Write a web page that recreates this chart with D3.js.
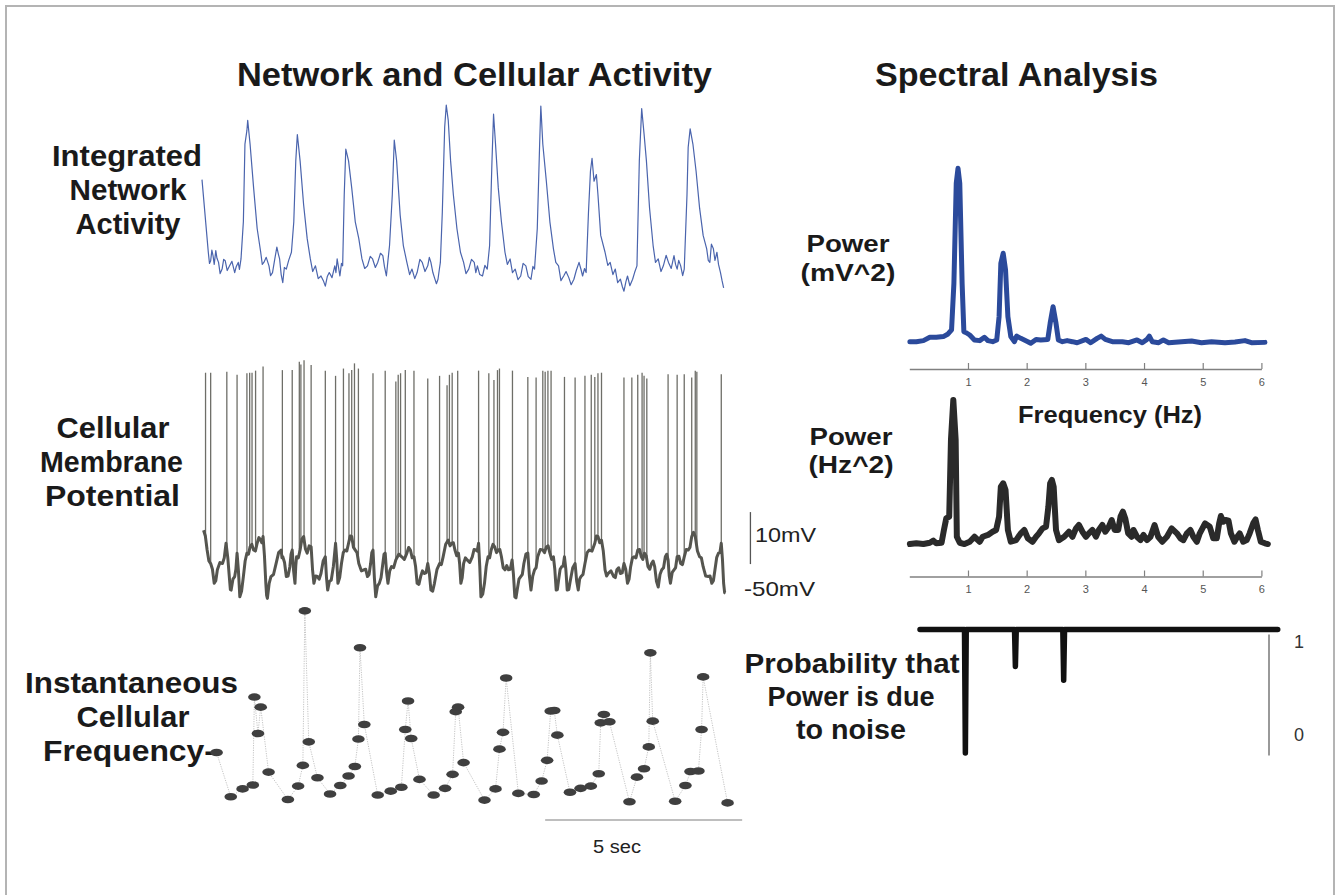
<!DOCTYPE html>
<html><head><meta charset="utf-8">
<script src="https://cdn.jsdelivr.net/npm/d3@7"></script>
<style>
html,body{margin:0;padding:0;background:#fff;}
svg{display:block;}
text{font-family:"Liberation Sans",Arial,Helvetica,sans-serif;}
</style></head><body>
<svg id="c" width="1336" height="895"></svg>
<script>
// ---------- DATA ----------
// Integrated network activity: [time s, a.u.]
const integratedActivity = [[0.00,60.8],[0.16,25.0],[0.19,19.5],[0.22,20.8],[0.25,26.0],[0.28,23.3],[0.31,19.0],[0.35,25.8],[0.38,22.0],[0.42,20.0],[0.46,14.5],[0.51,16.7],[0.55,21.5],[0.59,20.8],[0.64,16.0],[0.70,18.3],[0.76,20.5],[0.83,15.0],[0.87,18.0],[0.92,20.0],[0.95,16.5],[0.99,21.7],[1.05,40.0],[1.09,78.3],[1.14,85.0],[1.16,90.0],[1.22,78.3],[1.31,56.7],[1.40,36.7],[1.49,25.0],[1.53,19.0],[1.57,20.0],[1.63,22.5],[1.70,18.3],[1.74,13.5],[1.79,15.0],[1.85,22.0],[1.90,27.5],[1.94,24.0],[1.97,21.7],[2.01,14.0],[2.05,10.0],[2.09,17.5],[2.14,16.7],[2.20,21.0],[2.27,25.0],[2.33,40.0],[2.38,70.0],[2.42,83.0],[2.49,70.0],[2.58,48.3],[2.67,31.7],[2.75,21.7],[2.81,15.5],[2.88,18.3],[2.95,12.0],[3.02,13.3],[3.08,11.0],[3.13,8.3],[3.18,13.0],[3.23,15.0],[3.30,12.5],[3.37,18.3],[3.40,15.0],[3.43,21.7],[3.47,17.0],[3.50,13.3],[3.54,19.5],[3.57,18.3],[3.61,53.3],[3.65,75.8],[3.72,70.0],[3.80,56.7],[3.89,40.0],[3.98,31.7],[4.06,21.7],[4.13,17.0],[4.20,18.3],[4.27,23.0],[4.33,21.7],[4.40,17.5],[4.46,20.0],[4.53,24.5],[4.59,23.3],[4.63,18.0],[4.68,13.3],[4.72,21.0],[4.76,28.3],[4.83,53.3],[4.88,80.3],[4.94,70.0],[5.03,43.3],[5.11,28.3],[5.20,20.0],[5.27,14.0],[5.33,16.7],[5.40,12.0],[5.46,15.0],[5.53,21.5],[5.59,20.0],[5.66,15.5],[5.73,18.3],[5.77,22.5],[5.81,20.0],[5.86,15.0],[5.90,12.5],[5.95,9.5],[5.99,11.7],[6.02,16.0],[6.05,20.0],[6.10,45.0],[6.16,86.7],[6.20,97.5],[6.25,90.0],[6.31,70.0],[6.38,53.3],[6.47,36.7],[6.56,25.0],[6.64,20.0],[6.70,14.5],[6.77,16.7],[6.84,21.5],[6.91,20.0],[6.95,15.0],[6.99,18.3],[7.05,14.0],[7.12,13.3],[7.18,18.5],[7.24,16.7],[7.30,28.3],[7.36,70.0],[7.40,93.0],[7.45,78.3],[7.52,56.7],[7.60,40.0],[7.69,25.0],[7.75,19.0],[7.82,21.7],[7.88,15.0],[7.95,16.7],[8.02,11.5],[8.09,13.3],[8.15,19.5],[8.22,18.3],[8.28,13.0],[8.35,11.7],[8.40,18.0],[8.44,16.7],[8.51,36.7],[8.57,78.3],[8.60,97.0],[8.65,78.3],[8.74,60.0],[8.83,40.0],[8.92,26.7],[8.98,20.0],[9.05,18.3],[9.11,11.0],[9.18,13.3],[9.24,15.5],[9.31,12.5],[9.37,9.0],[9.44,11.7],[9.50,16.0],[9.57,20.0],[9.62,16.5],[9.66,13.3],[9.71,17.0],[9.75,15.0],[9.81,45.0],[9.86,65.0],[9.90,71.3],[9.95,60.0],[10.01,63.3],[10.05,53.3],[10.12,33.3],[10.23,25.0],[10.30,18.5],[10.36,20.0],[10.43,14.0],[10.49,16.7],[10.55,10.0],[10.62,11.7],[10.67,8.0],[10.71,5.8],[10.76,10.5],[10.80,13.3],[10.86,8.5],[10.93,11.7],[10.98,15.0],[11.04,18.3],[11.10,70.0],[11.16,95.8],[11.22,83.3],[11.28,70.0],[11.36,46.7],[11.45,28.3],[11.51,20.0],[11.58,21.7],[11.65,15.5],[11.71,18.3],[11.78,23.5],[11.84,20.0],[11.91,17.0],[11.98,23.3],[12.02,19.0],[12.06,16.7],[12.10,21.0],[12.15,18.3],[12.20,13.5],[12.24,16.7],[12.31,53.3],[12.34,76.7],[12.39,85.8],[12.46,78.3],[12.54,65.0],[12.63,46.7],[12.72,33.3],[12.81,26.7],[12.85,21.0],[12.89,20.0],[12.93,29.0],[12.98,26.7],[13.02,21.0],[13.07,25.0],[13.11,19.0],[13.16,15.0],[13.20,11.0],[13.24,7.5]];

// Cellular membrane potential, sub-threshold trace: [time s, mV]
const membraneBaseline = [[0.04,-40.9],[0.085,-42.0],[0.13,-44.7],[0.175,-46.8],[0.22,-47.3],[0.265,-48.4],[0.31,-51.1],[0.35,-50.6],[0.39,-48.5],[0.455,-47.1],[0.52,-47.3],[0.565,-46.2],[0.61,-43.4],[0.655,-46.2],[0.70,-50.5],[0.72,-52.3],[0.74,-52.4],[0.785,-50.3],[0.83,-49.8],[0.86,-48.4],[0.89,-45.3],[0.925,-48.7],[0.96,-53.7],[1.005,-52.6],[1.05,-49.8],[1.095,-46.8],[1.14,-45.3],[1.18,-45.5],[1.22,-44.1],[1.265,-43.6],[1.31,-44.7],[1.355,-44.9],[1.40,-43.4],[1.445,-42.3],[1.49,-42.8],[1.52,-43.3],[1.55,-42.1],[1.585,-45.8],[1.62,-51.1],[1.64,-53.4],[1.66,-54.0],[1.705,-51.1],[1.75,-49.8],[1.815,-49.4],[1.88,-47.3],[1.945,-45.2],[2.01,-44.7],[2.03,-46.2],[2.05,-46.0],[2.095,-47.1],[2.14,-49.8],[2.185,-49.7],[2.23,-47.9],[2.26,-45.5],[2.29,-44.7],[2.325,-48.7],[2.36,-51.1],[2.38,-47.8],[2.40,-46.0],[2.445,-46.2],[2.49,-44.7],[2.535,-42.6],[2.58,-42.1],[2.625,-44.5],[2.67,-45.3],[2.72,-43.9],[2.77,-44.1],[2.805,-48.4],[2.84,-51.1],[2.885,-49.7],[2.93,-49.8],[2.975,-50.3],[3.02,-49.2],[3.075,-46.8],[3.13,-46.0],[3.16,-50.0],[3.19,-52.4],[3.235,-50.7],[3.28,-50.5],[3.335,-47.8],[3.39,-43.4],[3.42,-46.5],[3.45,-51.1],[3.495,-50.0],[3.54,-47.3],[3.585,-45.2],[3.63,-44.7],[3.675,-44.9],[3.72,-43.4],[3.76,-42.0],[3.80,-42.1],[3.845,-44.2],[3.89,-44.7],[3.935,-45.2],[3.98,-47.3],[4.045,-48.7],[4.11,-48.5],[4.155,-48.4],[4.20,-49.8],[4.24,-49.4],[4.28,-47.3],[4.31,-45.2],[4.34,-44.7],[4.375,-50.0],[4.41,-53.7],[4.455,-51.6],[4.50,-51.1],[4.545,-50.0],[4.59,-47.3],[4.62,-45.5],[4.65,-45.3],[4.685,-49.0],[4.72,-51.1],[4.765,-48.7],[4.81,-47.9],[4.865,-48.1],[4.92,-46.6],[4.995,-45.5],[5.07,-46.0],[5.135,-46.5],[5.20,-45.3],[5.245,-44.2],[5.29,-44.7],[5.335,-46.2],[5.38,-46.0],[5.42,-47.8],[5.46,-51.1],[5.505,-51.3],[5.55,-49.8],[5.595,-48.7],[5.64,-49.2],[5.685,-49.1],[5.73,-47.3],[5.77,-49.1],[5.81,-52.4],[5.855,-52.6],[5.90,-51.1],[5.965,-48.4],[6.03,-47.3],[6.075,-47.5],[6.12,-46.0],[6.185,-43.6],[6.25,-42.8],[6.295,-43.9],[6.34,-43.4],[6.38,-43.3],[6.42,-44.7],[6.465,-45.8],[6.51,-45.3],[6.54,-47.4],[6.57,-51.1],[6.605,-50.0],[6.64,-47.3],[6.685,-46.2],[6.73,-46.6],[6.795,-47.1],[6.86,-46.0],[6.905,-44.6],[6.95,-44.7],[6.985,-44.9],[7.02,-43.4],[7.05,-47.8],[7.08,-53.7],[7.125,-53.2],[7.17,-51.1],[7.215,-47.8],[7.26,-46.0],[7.30,-46.2],[7.34,-44.7],[7.385,-43.6],[7.43,-44.1],[7.475,-45.2],[7.52,-44.7],[7.56,-44.6],[7.60,-46.0],[7.645,-48.1],[7.69,-48.5],[7.735,-47.7],[7.78,-48.5],[7.825,-48.4],[7.87,-46.6],[7.905,-49.4],[7.94,-53.7],[7.97,-53.9],[8.00,-52.4],[8.045,-50.3],[8.09,-49.8],[8.13,-49.4],[8.17,-47.3],[8.22,-45.5],[8.27,-45.3],[8.31,-49.7],[8.35,-52.4],[8.395,-49.7],[8.44,-48.5],[8.48,-48.1],[8.52,-46.0],[8.585,-44.6],[8.65,-44.7],[8.695,-45.2],[8.74,-44.1],[8.785,-43.9],[8.83,-45.3],[8.875,-46.5],[8.92,-46.0],[8.955,-48.4],[8.99,-52.4],[9.02,-52.3],[9.05,-50.5],[9.09,-48.4],[9.13,-47.9],[9.165,-47.8],[9.20,-46.0],[9.235,-48.4],[9.27,-52.4],[9.31,-52.3],[9.35,-50.5],[9.41,-48.1],[9.47,-47.3],[9.51,-50.7],[9.55,-52.4],[9.585,-50.3],[9.62,-49.8],[9.67,-49.4],[9.72,-47.3],[9.775,-45.2],[9.83,-44.7],[9.90,-44.9],[9.97,-43.4],[10.01,-42.0],[10.05,-42.1],[10.095,-43.3],[10.14,-42.8],[10.185,-44.9],[10.23,-48.5],[10.27,-49.7],[10.31,-49.2],[10.38,-48.7],[10.45,-49.8],[10.49,-50.0],[10.53,-48.5],[10.575,-48.1],[10.62,-49.2],[10.665,-49.1],[10.71,-47.3],[10.755,-48.4],[10.80,-51.1],[10.84,-50.3],[10.88,-47.9],[10.925,-46.2],[10.97,-46.0],[11.015,-46.2],[11.06,-44.7],[11.105,-44.6],[11.15,-46.0],[11.19,-46.5],[11.23,-45.3],[11.275,-45.8],[11.32,-47.9],[11.365,-48.4],[11.41,-47.3],[11.45,-46.8],[11.49,-47.9],[11.535,-50.7],[11.58,-51.8],[11.625,-49.4],[11.67,-48.5],[11.715,-48.1],[11.76,-46.0],[11.795,-45.5],[11.83,-46.6],[11.86,-49.7],[11.89,-51.1],[11.935,-49.0],[11.98,-48.5],[12.02,-48.1],[12.06,-46.0],[12.105,-45.9],[12.15,-47.3],[12.195,-47.5],[12.24,-46.0],[12.29,-44.6],[12.34,-44.7],[12.385,-44.2],[12.43,-42.1],[12.475,-41.3],[12.52,-42.1],[12.575,-44.9],[12.63,-46.0],[12.675,-46.2],[12.72,-47.9],[12.785,-49.7],[12.85,-49.8],[12.895,-49.7],[12.94,-51.1],[12.98,-50.6],[13.02,-48.5],[13.065,-46.1],[13.11,-45.3],[13.145,-45.2],[13.18,-43.4],[13.21,-46.5],[13.24,-51.1],[13.265,-52.9],[13.29,-53.0]];

// Action potentials: [time s, peak mV]
const spikes = [[0.09,-10.6],[0.22,-10.6],[0.63,-10.4],[0.89,-11.0],[1.14,-10.7],[1.21,-10.6],[1.27,-10.6],[1.36,-10.2],[1.55,-9.4],[2.04,-10.1],[2.29,-10.1],[2.47,-8.5],[2.51,-9.0],[2.59,-8.2],[2.77,-9.1],[3.13,-10.2],[3.39,-11.2],[3.59,-9.8],[3.73,-10.7],[3.80,-10.1],[3.87,-8.8],[3.97,-9.8],[4.34,-10.7],[4.65,-10.2],[4.92,-12.3],[4.98,-11.0],[5.04,-10.7],[5.16,-10.1],[5.38,-10.2],[5.73,-11.7],[6.03,-11.2],[6.22,-13.0],[6.28,-11.0],[6.35,-10.6],[6.49,-10.2],[7.02,-10.2],[7.28,-10.7],[7.41,-12.0],[7.50,-10.1],[7.55,-9.8],[7.88,-10.2],[8.27,-11.4],[8.48,-11.5],[8.65,-10.2],[8.71,-10.4],[8.78,-10.2],[8.86,-10.2],[9.20,-11.4],[9.47,-11.5],[9.72,-11.2],[9.88,-11.0],[9.97,-11.4],[10.05,-10.7],[10.14,-10.6],[10.71,-11.5],[10.91,-11.5],[11.06,-11.0],[11.17,-10.6],[11.22,-11.2],[11.29,-11.7],[11.83,-10.9],[12.06,-11.0],[12.24,-10.9],[12.43,-11.5],[12.52,-10.2],[12.56,-10.4],[13.18,-10.9]];

// Instantaneous cellular frequency: [time s, Hz]
const instFreq = [[0.37,11.1],[0.73,3.2],[1.03,4.6],[1.29,5.3],[1.33,21.0],[1.42,14.5],[1.49,19.2],[1.69,7.6],[2.18,2.7],[2.44,5.1],[2.56,8.8],[2.61,36.4],[2.71,13.0],[2.93,6.6],[3.25,3.7],[3.51,5.2],[3.72,6.9],[3.88,8.6],[3.97,13.5],[4.01,29.8],[4.12,16.1],[4.46,3.5],[4.79,4.2],[5.06,4.9],[5.16,15.2],[5.23,20.3],[5.31,13.6],[5.52,6.3],[5.88,3.5],[6.17,4.7],[6.36,7.2],[6.44,18.4],[6.50,19.2],[6.64,9.3],[7.17,2.6],[7.45,4.6],[7.55,11.7],[7.64,14.7],[7.72,24.4],[8.03,3.8],[8.42,3.6],[8.62,6.0],[8.76,9.7],[8.85,18.5],[8.94,18.6],[9.02,14.2],[9.34,4.0],[9.61,4.7],[9.87,5.1],[10.07,7.3],[10.12,16.4],[10.20,17.9],[10.34,16.6],[10.85,2.3],[11.04,6.7],[11.22,8.2],[11.34,12.1],[11.38,28.9],[11.44,16.7],[12.01,2.4],[12.27,5.2],[12.40,7.7],[12.60,7.8],[12.68,15.2],[12.72,24.6],[13.34,2.1]];

// Power spectrum of network activity: [Hz, mV^2]
const networkPower = [[0.01,0.019],[0.12,0.019],[0.24,0.025],[0.35,0.044],[0.46,0.044],[0.58,0.048],[0.66,0.063],[0.72,0.086],[0.76,0.352],[0.80,0.924],[0.83,1.01],[0.86,0.924],[0.90,0.352],[0.93,0.076],[0.97,0.070],[1.03,0.057],[1.11,0.029],[1.20,0.025],[1.28,0.044],[1.34,0.025],[1.42,0.019],[1.49,0.029],[1.53,0.162],[1.56,0.467],[1.60,0.524],[1.64,0.429],[1.68,0.162],[1.73,0.048],[1.79,0.019],[1.83,0.051],[1.90,0.038],[2.02,0.019],[2.07,0.010],[2.16,0.032],[2.24,0.029],[2.36,0.032],[2.40,0.124],[2.45,0.219],[2.50,0.124],[2.54,0.029],[2.61,0.019],[2.69,0.025],[2.78,0.019],[2.86,0.013],[3.01,0.032],[3.09,0.013],[3.20,0.038],[3.27,0.051],[3.34,0.032],[3.46,0.019],[3.63,0.019],[3.74,0.013],[3.88,0.029],[3.97,0.013],[4.05,0.032],[4.09,0.051],[4.14,0.019],[4.25,0.013],[4.33,0.029],[4.42,0.013],[4.64,0.019],[4.81,0.023],[4.98,0.013],[5.15,0.019],[5.38,0.013],[5.55,0.017],[5.72,0.025],[5.83,0.013],[6.06,0.015]];

// Power spectrum of instantaneous cellular frequency: [Hz, Hz^2]
const cellPower = [[0.01,0.018],[0.12,0.023],[0.24,0.018],[0.35,0.027],[0.41,0.041],[0.46,0.023],[0.55,0.027],[0.59,0.114],[0.63,0.193],[0.68,0.205],[0.71,0.727],[0.75,1.0],[0.79,0.727],[0.81,0.068],[0.86,0.027],[0.94,0.018],[1.03,0.034],[1.11,0.068],[1.20,0.034],[1.25,0.068],[1.34,0.080],[1.42,0.102],[1.48,0.114],[1.53,0.205],[1.56,0.409],[1.60,0.432],[1.64,0.386],[1.68,0.114],[1.73,0.034],[1.82,0.045],[1.90,0.091],[1.96,0.114],[2.02,0.057],[2.10,0.034],[2.16,0.068],[2.21,0.091],[2.27,0.125],[2.33,0.136],[2.37,0.273],[2.40,0.432],[2.43,0.455],[2.46,0.409],[2.50,0.114],[2.55,0.045],[2.64,0.068],[2.72,0.102],[2.78,0.068],[2.84,0.125],[2.89,0.148],[2.95,0.102],[3.01,0.068],[3.06,0.091],[3.12,0.114],[3.18,0.068],[3.23,0.114],[3.29,0.148],[3.34,0.102],[3.40,0.136],[3.45,0.182],[3.50,0.114],[3.56,0.114],[3.60,0.205],[3.64,0.239],[3.68,0.193],[3.73,0.091],[3.79,0.068],[3.82,0.114],[3.88,0.068],[3.94,0.045],[3.99,0.080],[4.05,0.045],[4.11,0.068],[4.18,0.148],[4.24,0.068],[4.31,0.034],[4.39,0.068],[4.47,0.125],[4.56,0.091],[4.62,0.057],[4.67,0.045],[4.73,0.091],[4.79,0.114],[4.84,0.068],[4.90,0.034],[4.95,0.091],[5.04,0.159],[5.12,0.136],[5.18,0.057],[5.24,0.057],[5.28,0.159],[5.31,0.209],[5.35,0.170],[5.39,0.182],[5.44,0.177],[5.48,0.091],[5.54,0.034],[5.59,0.068],[5.63,0.091],[5.69,0.034],[5.75,0.045],[5.80,0.091],[5.86,0.159],[5.90,0.186],[5.94,0.114],[5.99,0.034],[6.06,0.023],[6.11,0.018]];

// Probability that power is due to noise: [Hz, p]
const noiseProb = [[0,1],[0.765,1],[0.78,0],[0.795,1],[1.625,1],[1.64,0.70],[1.655,1],[2.455,1],[2.47,0.59],[2.485,1],[6.15,1]];

const freqTicks = [1,2,3,4,5,6];
const probTicks = [1,0];
const timeBar = [8.71, 13.71];      // 5 sec scale bar
const voltBar = [-47.4, -37.4];     // 10 mV scale bar

// ---------- DRAW ----------
const svg = d3.select("#c");
svg.append("rect").attr("x",6).attr("y",6).attr("width",1328).attr("height",900)
  .attr("fill","none").attr("stroke","#b4b4b4").attr("stroke-width",2);

function txt(s, x, y, o={}) {
  const t = svg.append("text").attr("x",x).attr("y",y).text(s)
    .attr("font-size",o.size||30).attr("font-weight",o.weight||"bold")
    .attr("text-anchor",o.anchor||"middle").attr("fill",o.fill||"#1a1a1a");
  if (o.len) t.attr("textLength",o.len).attr("lengthAdjust","spacingAndGlyphs");
  return t;
}

// titles
txt("Network and Cellular Activity", 474.5, 86, {size:33, len:475});
txt("Spectral Analysis", 1016.5, 86, {size:33, len:283});

// left labels
txt("Integrated",127,166,{len:150}); txt("Network",128,200,{len:117}); txt("Activity",128,234,{len:105});
txt("Cellular",113,438,{len:113}); txt("Membrane",111.5,472,{len:143}); txt("Potential",112.5,506,{len:135});
txt("Instantaneous",131.5,693,{len:213}); txt("Cellular",133,727,{len:113}); txt("Frequency-",215,761,{anchor:"end",len:172});

// right labels
txt("Power",848,252,{size:24,len:83}); txt("(mV^2)",848,281,{size:24,len:95});
txt("Frequency (Hz)",1110,423,{size:24,len:184});
txt("Power",851,445,{size:24,len:83}); txt("(Hz^2)",851,473,{size:24,len:85});
txt("Probability that",852,673,{size:27,len:215}); txt("Power is due",851,706,{size:27,len:167}); txt("to noise",851,739,{size:27,len:110});

// time scale shared by left traces
const tx = d3.scaleLinear().domain([0,13.3]).range([202,726]);

// integrated network activity
const yNet = d3.scaleLinear().domain([0,100]).range([303,100]);
svg.append("path").datum(integratedActivity)
  .attr("d", d3.line().x(d=>tx(d[0])).y(d=>yNet(d[1])))
  .attr("fill","none").attr("stroke","#4a64ad").attr("stroke-width",1.2).attr("stroke-linejoin","round");

// membrane potential
const yMem = d3.scaleLinear().domain([-50,-10]).range([577.6,369.6]);
const bis = d3.bisector(d=>d[0]).left;
function baseAt(t){
  const i = Math.max(1, Math.min(membraneBaseline.length-1, bis(membraneBaseline,t)));
  const a = membraneBaseline[i-1], b = membraneBaseline[i];
  const k = (t-a[0])/(b[0]-a[0]);
  return a[1] + (b[1]-a[1])*Math.max(0,Math.min(1,k));
}
svg.append("g").selectAll("line").data(spikes).join("line")
  .attr("x1",d=>tx(d[0])).attr("x2",d=>tx(d[0]))
  .attr("y1",d=>yMem(baseAt(d[0]))).attr("y2",d=>yMem(d[1]))
  .attr("stroke","#6e6e68").attr("stroke-width",1.3);
svg.append("path").datum(membraneBaseline)
  .attr("d", d3.line().x(d=>tx(d[0])).y(d=>yMem(d[1])))
  .attr("fill","none").attr("stroke","#55554f").attr("stroke-width",3).attr("stroke-linejoin","round");
// 10 mV bar
svg.append("line").attr("x1",tx(13.92)).attr("x2",tx(13.92))
  .attr("y1",yMem(voltBar[0])).attr("y2",yMem(voltBar[1])).attr("stroke","#555").attr("stroke-width",1.3);
txt("10mV",755,542,{size:21,weight:"normal",anchor:"start",len:61,fill:"#222"});
txt("-50mV",744,596,{size:21,weight:"normal",anchor:"start",len:71,fill:"#222"});

// instantaneous frequency
const yF = d3.scaleLinear().domain([0,40]).range([814.67,590.67]);
svg.append("path").datum(instFreq)
  .attr("d", d3.line().x(d=>tx(d[0])).y(d=>yF(d[1])))
  .attr("fill","none").attr("stroke","#bdbdbd").attr("stroke-width",0.9).attr("stroke-dasharray","1.2,1.2");
svg.append("g").selectAll("ellipse").data(instFreq).join("ellipse")
  .attr("cx",d=>tx(d[0])).attr("cy",d=>yF(d[1])).attr("rx",6.3).attr("ry",3.8).attr("fill","#3f3f3f");
// 5 sec bar
svg.append("line").attr("x1",tx(timeBar[0])).attr("x2",tx(timeBar[1])).attr("y1",820).attr("y2",820)
  .attr("stroke","#a8a8a8").attr("stroke-width",1.6);
txt("5 sec",617,853,{size:18,weight:"normal",len:48,fill:"#222"});

// spectra
const fx = d3.scaleLinear().domain([0,6]).range([909.3,1261.4]);
function freqAxis(y){
  const g = svg.append("g").attr("transform",`translate(0,${y})`)
    .call(d3.axisBottom(fx).tickValues(freqTicks).tickSize(-6).tickSizeOuter(0).tickPadding(9).tickFormat(d3.format("d")));
  g.select(".domain").attr("stroke","#808080").attr("stroke-width",1.4);
  g.selectAll(".tick line").attr("stroke","#808080").attr("stroke-width",1.2);
  g.selectAll(".tick text").attr("fill","#555").attr("font-size",11)
    .attr("font-family","'Liberation Sans Narrow','Arial Narrow','Liberation Sans',sans-serif");
}
const yP1 = d3.scaleLinear().domain([0,1]).range([345,170]);
svg.append("path").datum(networkPower)
  .attr("d", d3.line().x(d=>fx(d[0])).y(d=>yP1(d[1])))
  .attr("fill","none").attr("stroke","#2b4a9b").attr("stroke-width",5).attr("stroke-linejoin","round").attr("stroke-linecap","round");
freqAxis(369);

const yP2 = d3.scaleLinear().domain([0,1]).range([546.7,400]);
svg.append("path").datum(cellPower)
  .attr("d", d3.line().x(d=>fx(d[0])).y(d=>yP2(d[1])))
  .attr("fill","none").attr("stroke","#2a2a2a").attr("stroke-width",6).attr("stroke-linejoin","round").attr("stroke-linecap","round");
freqAxis(576.5);

// probability
const px = d3.scaleLinear().domain([0,6]).range([920,1269]);
const py = d3.scaleLinear().domain([0,1]).range([753,629.5]);
svg.append("line").attr("x1",px(6)).attr("x2",px(6)).attr("y1",py(0.96)).attr("y2",py(-0.02))
  .attr("stroke","#777").attr("stroke-width",1.5);
svg.append("path").datum(noiseProb)
  .attr("d", d3.line().x(d=>px(d[0])).y(d=>py(d[1])))
  .attr("fill","none").attr("stroke","#111").attr("stroke-width",5.5).attr("stroke-linejoin","round").attr("stroke-linecap","round");
svg.append("g").selectAll("text").data(probTicks).join("text")
  .attr("x",1299).attr("y",d=>d===1 ? py(d)+18 : py(d)-12).text(d=>d)
  .attr("text-anchor","middle").attr("font-size",18).attr("fill","#333");
</script>
</body></html>
